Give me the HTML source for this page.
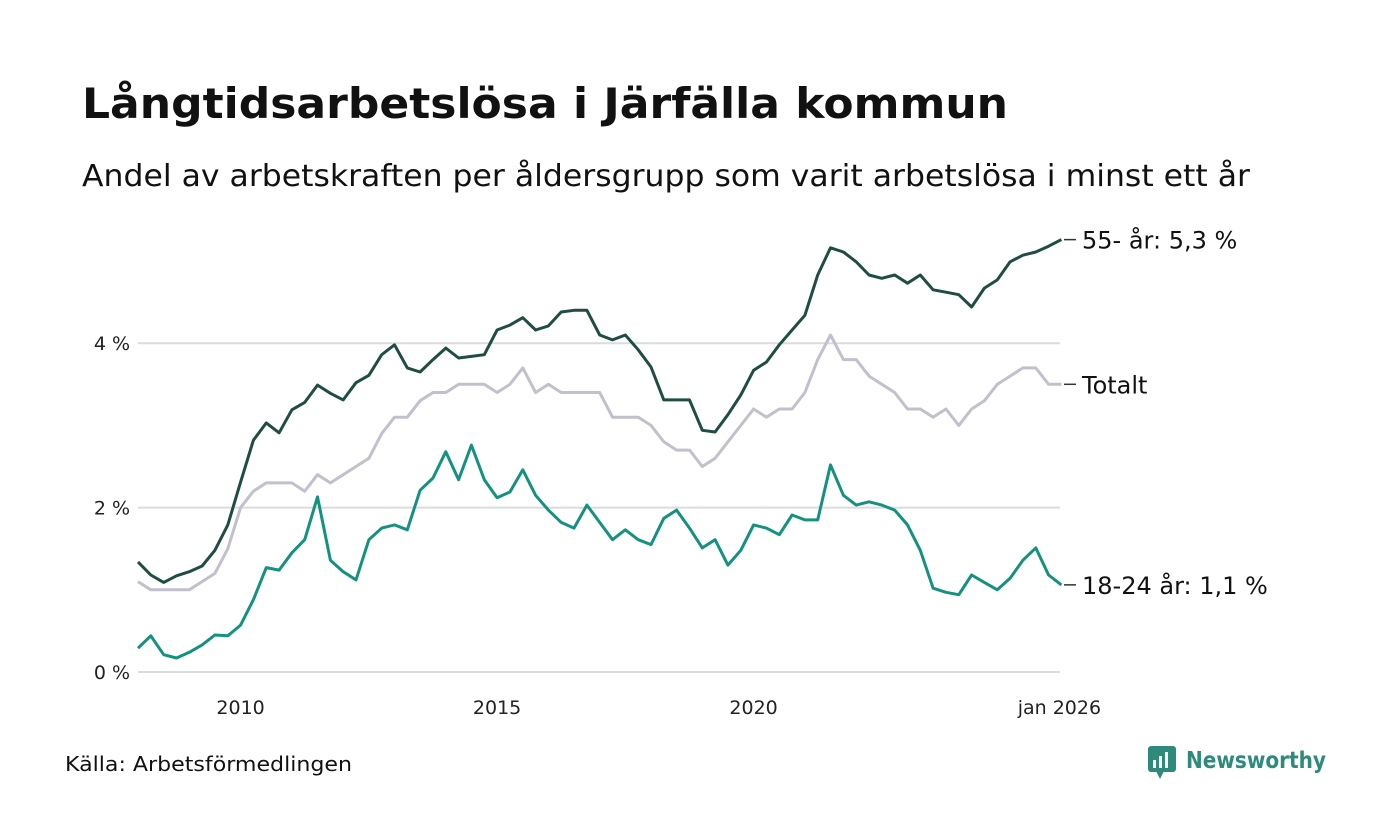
<!DOCTYPE html>
<html><head><meta charset="utf-8">
<style>
body{margin:0;background:#fff;width:1400px;height:840px;overflow:hidden;font-family:"DejaVu Sans","Liberation Sans",sans-serif;}
svg{display:block}
</style></head>
<body>
<svg id="chart" width="1400" height="840" font-family="DejaVu Sans, Liberation Sans, sans-serif">
<text x="82" y="118" font-size="42" font-weight="bold" fill="#111" textLength="926" lengthAdjust="spacingAndGlyphs">Långtidsarbetslösa i Järfälla kommun</text>
<text x="82" y="186" font-size="30" fill="#111" textLength="1168" lengthAdjust="spacingAndGlyphs">Andel av arbetskraften per åldersgrupp som varit arbetslösa i minst ett år</text>
<text x="65" y="771" font-size="20" fill="#111" textLength="287" lengthAdjust="spacingAndGlyphs">Källa: Arbetsförmedlingen</text>
<g>
<rect x="1148" y="746" width="28" height="26" rx="3" fill="#2e8b7c"/>
<polygon points="1156,771 1164,771 1160,779" fill="#2e8b7c"/>
<rect x="1153" y="760" width="3" height="8" fill="#fff"/><rect x="1159" y="756" width="3" height="12" fill="#fff"/><rect x="1165" y="752" width="3" height="16" fill="#fff"/>
<text x="1186" y="768" font-size="23" font-weight="bold" fill="#2e8b7c" textLength="140" lengthAdjust="spacingAndGlyphs">Newsworthy</text>
</g>
<g id="grid"></g><g id="lines"></g><g id="labels"></g>
</svg>
<script>
const times=[];for(let i=0;i<=72;i++)times.push(2008+i*0.25);
const seriesOld=[1.34,1.18,1.09,1.17,1.22,1.29,1.48,1.79,2.31,2.82,3.03,2.91,3.19,3.28,3.49,3.39,3.31,3.52,3.61,3.86,3.98,3.70,3.65,3.80,3.94,3.82,3.84,3.86,4.16,4.22,4.31,4.16,4.21,4.38,4.40,4.40,4.10,4.04,4.10,3.92,3.71,3.31,3.31,3.31,2.94,2.92,3.13,3.37,3.67,3.77,3.98,4.16,4.34,4.83,5.16,5.11,4.99,4.83,4.79,4.83,4.73,4.83,4.65,4.62,4.59,4.44,4.67,4.77,4.99,5.07,5.11,5.18,5.26];
const seriesTotal=[1.1,1.0,1.0,1.0,1.0,1.1,1.2,1.5,2.0,2.2,2.3,2.3,2.3,2.2,2.4,2.3,2.4,2.5,2.6,2.9,3.1,3.1,3.3,3.4,3.4,3.5,3.5,3.5,3.4,3.5,3.7,3.4,3.5,3.4,3.4,3.4,3.4,3.1,3.1,3.1,3.0,2.8,2.7,2.7,2.5,2.6,2.8,3.0,3.2,3.1,3.2,3.2,3.4,3.8,4.1,3.8,3.8,3.6,3.5,3.4,3.2,3.2,3.1,3.2,3.0,3.2,3.3,3.5,3.6,3.7,3.7,3.5,3.5];
const seriesYoung=[0.29,0.44,0.21,0.17,0.24,0.33,0.45,0.44,0.57,0.88,1.27,1.24,1.45,1.61,2.13,1.36,1.22,1.12,1.61,1.75,1.79,1.73,2.21,2.36,2.68,2.34,2.76,2.34,2.12,2.19,2.46,2.15,1.97,1.82,1.75,2.03,1.82,1.61,1.73,1.61,1.55,1.87,1.97,1.75,1.51,1.61,1.30,1.48,1.79,1.75,1.67,1.91,1.85,1.85,2.52,2.15,2.03,2.07,2.03,1.97,1.79,1.48,1.02,0.97,0.94,1.18,1.09,1.00,1.14,1.36,1.51,1.18,1.06];
const yTicks=[0,2,4];
const xTicks=[2010,2015,2020,2026];
const xTickLabels=["2010","2015","2020","jan 2026"];
const endLabels=["55- år: 5,3 %","Totalt","18-24 år: 1,1 %"];
const X=t=>138+(t-2008)*51.3;
const Y=v=>672-v*82.2;
const NS="http://www.w3.org/2000/svg";
function mk(tag,attrs,parent){const e=document.createElementNS(NS,tag);for(const k in attrs)e.setAttribute(k,attrs[k]);parent.appendChild(e);return e;}
const grid=document.getElementById('grid'),lines=document.getElementById('lines'),labels=document.getElementById('labels');
yTicks.forEach(v=>{
  const l=mk('line',{x1:138,x2:1060,y1:Y(v),y2:Y(v),stroke:'#dcdcdc','stroke-width':2},grid);
  
  
  const t=mk('text',{x:130,y:Y(v)+7,'font-size':19,'text-anchor':'end',fill:'#222'},grid);
  t.textContent=v+' %';
  
  
});
xTicks.forEach((v,i)=>{
  const t=mk('text',{x:X(v)+(i==3?-2:0),y:714,'font-size':19,'text-anchor':'middle',fill:'#222'},grid);
  t.textContent=xTickLabels[i];
  
  
});
const defs=[[seriesTotal,'#c2c0cc','series-totalt'],[seriesYoung,'#14917f','series-18-24'],[seriesOld,'#1f4d44','series-55']];
defs.forEach(([s,c,n])=>{
  const d=s.map((v,i)=>(i?'L':'M')+X(times[i]).toFixed(1)+','+Y(v).toFixed(1)).join('');
  const p=mk('path',{d:d,fill:'none',stroke:c,'stroke-width':3,'stroke-linejoin':'round'},lines);
  
  
});
const ends=[seriesOld,seriesTotal,seriesYoung];
ends.forEach((s,i)=>{
  const y=Y(s[s.length-1]);
  mk('line',{x1:1064,x2:1076,y1:y,y2:y,stroke:'#333','stroke-width':1.5},labels);
  const t=mk('text',{x:1082,y:y+9,'font-size':24,fill:'#111'},labels);
  t.textContent=endLabels[i];
  
  
});
</script>
</body></html>
